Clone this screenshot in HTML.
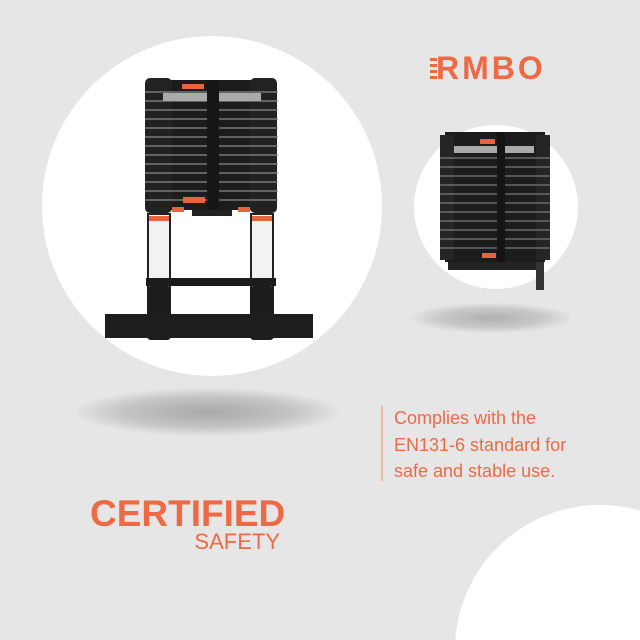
<!DOCTYPE html>
<html><head><meta charset="utf-8"><style>
html,body{margin:0;padding:0;width:640px;height:640px;overflow:hidden}
body{background:#e6e6e6;position:relative;font-family:"Liberation Sans",sans-serif}
.c{position:absolute;border-radius:50%;background:#fff}
.t{position:absolute;color:#ee6a45}
</style></head><body>
<div class="c" style="left:42px;top:36px;width:340px;height:340px"></div>
<div class="c" style="left:414px;top:125px;width:164px;height:164px"></div>
<div style="position:absolute;left:75px;top:388px;width:265px;height:48px;border-radius:50%;background:radial-gradient(ellipse at center,#a8a8a8 0%,#c4c4c4 45%,#e6e6e6 72%)"></div>
<div style="position:absolute;left:410px;top:303px;width:162px;height:30px;border-radius:50%;background:radial-gradient(ellipse at center,#b0b0b0 0%,#c8c8c8 45%,#e6e6e6 72%)"></div>
<svg style="position:absolute;left:0;top:0" width="640" height="640">
<path d="M455.3,640 A145,145 0 0,1 640,510.6 L640,640 Z" fill="#fff"/>
<g>
<rect x="150" y="80" width="123" height="130" fill="#1c1c1c"/>
<rect x="145" y="78" width="27" height="135" rx="5" fill="#222"/>
<rect x="250" y="78" width="27" height="135" rx="5" fill="#222"/>
<g stroke="#8a8a8a" stroke-width="1.3">
<line x1="145" y1="92" x2="278" y2="92"/><line x1="145" y1="101" x2="278" y2="101"/>
<line x1="145" y1="110" x2="278" y2="110"/><line x1="145" y1="119" x2="278" y2="119"/>
<line x1="145" y1="128" x2="278" y2="128"/><line x1="145" y1="137" x2="278" y2="137"/>
<line x1="145" y1="146" x2="278" y2="146"/><line x1="145" y1="155" x2="278" y2="155"/>
<line x1="145" y1="164" x2="278" y2="164"/><line x1="145" y1="173" x2="278" y2="173"/>
<line x1="145" y1="182" x2="278" y2="182"/><line x1="145" y1="191" x2="278" y2="191"/>
<line x1="145" y1="200" x2="278" y2="200"/>
</g>
<rect x="163" y="93" width="98" height="8" fill="#aaa"/>
<rect x="207" y="80" width="12" height="130" fill="#161616"/>
<rect x="182" y="84" width="22" height="5" fill="#e8643c"/>
<rect x="183" y="197" width="22" height="6" fill="#e8643c"/>
<rect x="172" y="207" width="12" height="5" fill="#e8643c"/><rect x="238" y="207" width="12" height="5" fill="#e8643c"/>
<rect x="192" y="210" width="40" height="6" fill="#222"/>
<rect x="148" y="214" width="22" height="96" fill="#f2f2f2" stroke="#222" stroke-width="2"/>
<rect x="251" y="214" width="22" height="96" fill="#f2f2f2" stroke="#222" stroke-width="2"/>
<rect x="149" y="216" width="20" height="5" fill="#e8643c"/><rect x="252" y="216" width="20" height="5" fill="#e8643c"/>
<rect x="146" y="278" width="130" height="8" fill="#1c1c1c"/>
<rect x="147" y="286" width="24" height="54" rx="4" fill="#1c1c1c"/>
<rect x="250" y="286" width="24" height="54" rx="4" fill="#1c1c1c"/>
<rect x="105" y="314" width="208" height="24" fill="#1e1e1e"/>
</g>
<g>
<rect x="445" y="132" width="100" height="130" fill="#1c1c1c"/>
<rect x="440" y="135" width="14" height="125" fill="#252525"/>
<rect x="536" y="135" width="14" height="125" fill="#252525"/>
<g stroke="#7a7a7a" stroke-width="1.2">
<line x1="440" y1="158" x2="550" y2="158"/><line x1="440" y1="167" x2="550" y2="167"/>
<line x1="440" y1="176" x2="550" y2="176"/><line x1="440" y1="185" x2="550" y2="185"/>
<line x1="440" y1="194" x2="550" y2="194"/><line x1="440" y1="203" x2="550" y2="203"/>
<line x1="440" y1="212" x2="550" y2="212"/><line x1="440" y1="221" x2="550" y2="221"/>
<line x1="440" y1="230" x2="550" y2="230"/><line x1="440" y1="239" x2="550" y2="239"/>
<line x1="440" y1="248" x2="550" y2="248"/>
</g>
<rect x="454" y="146" width="80" height="7" fill="#aaa"/>
<rect x="497" y="132" width="8" height="135" fill="#141414"/>
<rect x="480" y="139" width="15" height="5" fill="#e8643c"/>
<rect x="482" y="253" width="14" height="5" fill="#e8643c"/>
<rect x="448" y="262" width="90" height="8" fill="#222"/>
<rect x="536" y="262" width="8" height="28" fill="#333"/>
</g>
<g fill="#ee6a45">
<rect x="430" y="58" width="7" height="3"/><rect x="430" y="64" width="7" height="3"/><rect x="430" y="70" width="7" height="3"/><rect x="430" y="76" width="7" height="3"/>
</g>
<line x1="382" y1="406" x2="382" y2="481" stroke="#f0b8a3" stroke-width="2"/>
</svg>
<div class="t" style="left:436px;top:51px;font-size:32px;font-weight:bold;letter-spacing:3px;line-height:34px">RMBO</div>
<div class="t" style="left:394px;top:405px;font-size:18px;line-height:26.5px">Complies with the<br>EN131-6 standard for<br>safe and stable use.</div>
<div class="t" style="left:90px;top:494px;font-size:37px;font-weight:bold;line-height:40px">CERTIFIED</div>
<div class="t" style="right:360px;top:529px;font-size:22px;line-height:26px">SAFETY</div>
</body></html>
